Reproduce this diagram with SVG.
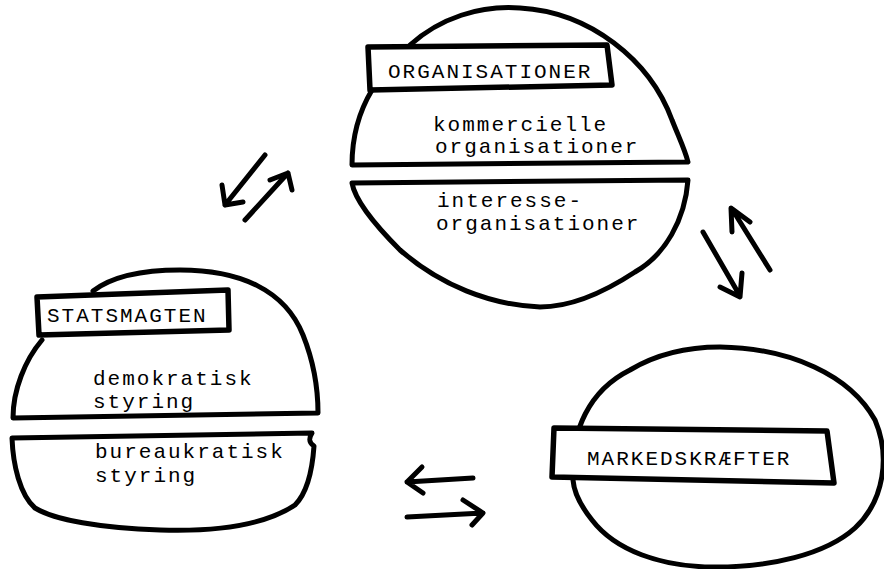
<svg xmlns="http://www.w3.org/2000/svg" width="884" height="569" viewBox="0 0 884 569">
<style>
.shape{fill:#fff;stroke:#000;stroke-width:5;stroke-linejoin:round;stroke-linecap:round}
.box{fill:#fff;stroke:#000;stroke-width:5.5;stroke-linejoin:round}
.t{font-family:"Liberation Mono","DejaVu Sans Mono",monospace;font-size:21px;letter-spacing:2px;fill:#000}
.arr{fill:none;stroke:#000;stroke-width:5;stroke-linecap:round;stroke-linejoin:round}
</style>
<rect width="884" height="569" fill="#fff"/>
<g id="organisationer">
<path class="shape" d="M 410 45 C 440 18, 480 5, 520 8 C 590 12, 650 60, 672 120 C 680 140, 685 150, 688 162 L 352 165 C 352 135, 360 110, 372 90"/>
<path class="shape" d="M 352 183 L 688 180 C 685 220, 665 255, 635 272 C 600 295, 570 307, 540 307 C 490 305, 440 285, 400 250 C 375 225, 355 200, 352 183 Z"/>
<path class="box" d="M 368 47 L 607 45 L 612 85 L 370 90 Z"/>
<text class="t" x="388" y="78">ORGANISATIONER</text>
<text class="t" x="433" y="131">kommercielle</text>
<text class="t" x="435" y="153">organisationer</text>
<text class="t" x="437" y="207">interesse-</text>
<text class="t" x="436" y="230">organisationer</text>
</g>
<g id="statsmagten">
<path class="shape" d="M 93 291 C 110 278, 140 270, 180 270 C 240 270, 285 290, 303 335 C 315 365, 318 390, 318 413 L 13 418 C 13 390, 25 360, 42 340"/>
<path class="shape" d="M 12 438 L 312 433 C 309 438, 308 442, 314 446 C 312 475, 305 495, 295 505 C 265 525, 220 532, 160 530 C 100 528, 55 520, 35 508 C 20 495, 13 465, 12 438 Z"/>
<path class="box" d="M 37 297 L 228 290 L 229 330 L 39 335 Z"/>
<text class="t" x="47" y="322">STATSMAGTEN</text>
<text class="t" x="93" y="385">demokratisk</text>
<text class="t" x="93" y="408">styring</text>
<text class="t" x="95" y="458">bureaukratisk</text>
<text class="t" x="95" y="482">styring</text>
</g>
<g id="markedskraefter">
<path class="shape" d="M 573 480 C 570 430, 590 390, 630 370 C 660 352, 690 347, 720 347 C 790 348, 850 375, 875 420 C 890 455, 885 500, 855 528 C 825 555, 770 567, 715 567 C 660 567, 615 550, 592 520 C 580 505, 574 493, 573 480 Z"/>
<path class="box" d="M 554 428 L 827 431 L 834 483 L 552 477 Z"/>
<text class="t" x="587" y="465">MARKEDSKRÆFTER</text>
</g>
<g id="connectors">
<path class="arr" d="M 265 155 L 225 205 M 222 185 L 225 205 L 243 202"/>
<path class="arr" d="M 245 220 L 288 173 M 270 180 L 288 173 L 292 190"/>
<path class="arr" d="M 703 232 L 740 296 M 720 287 L 740 297 L 742 273"/>
<path class="arr" d="M 770 270 L 732 209 M 732 232 L 731 208 L 750 222"/>
<path class="arr" d="M 473 478 L 407 482 M 422 467 L 407 482 L 423 493"/>
<path class="arr" d="M 407 517 L 483 513 M 463 500 L 483 513 L 472 525"/>
</g>
</svg>
